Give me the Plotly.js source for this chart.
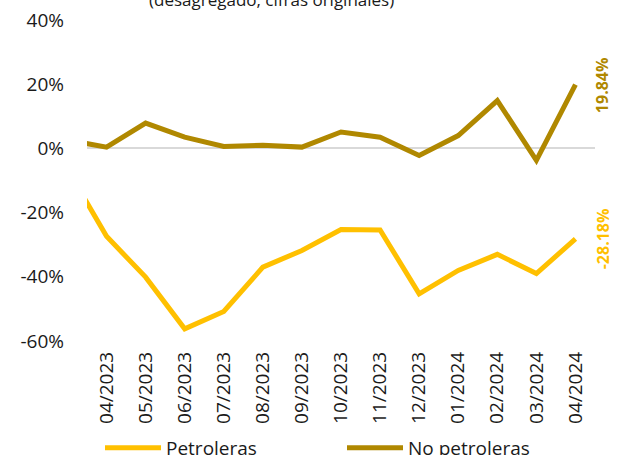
<!DOCTYPE html>
<html>
<head>
<meta charset="utf-8">
<script src="https://cdn.plot.ly/plotly-3.0.1.min.js"></script>
<style>html,body{margin:0;padding:0;background:#fff;}#chart{width:618px;height:455px;}</style>
</head>
<body>
<div id="chart"></div>
<script>
const months = ["03/2023","04/2023","05/2023","06/2023","07/2023","08/2023","09/2023","10/2023","11/2023","12/2023","01/2024","02/2024","03/2024","04/2024"];
const petroleras = [-6.4,-27.4,-40.1,-56.2,-50.8,-37.0,-31.8,-25.3,-25.4,-45.3,-38.0,-33.0,-39.0,-28.18];
const noPetroleras = [2.6,0.4,7.9,3.5,0.6,1.0,0.4,5.1,3.5,-2.2,4.0,14.9,-3.7,19.84];
const seriesNames = ["Petroleras","No petroleras"];
const colors = ["#FFC000","#B08800"];
const subtitle = "(desagregado, cifras originales)";
const yTicks = [-60,-40,-20,0,20,40];

const font = "Open Sans, Noto Sans, sans-serif";
const last = months.length - 1;

const traces = [
  {x: months, y: petroleras, name: seriesNames[0], type: "scatter", mode: "lines",
   line: {color: colors[0], width: 5}},
  {x: months, y: noPetroleras, name: seriesNames[1], type: "scatter", mode: "lines",
   line: {color: colors[1], width: 5}}
];

const fmt = v => v.toFixed(2) + "%";

const layout = {
  width: 618, height: 455,
  margin: {l: 87, r: 23, t: 20, b: 114},
  paper_bgcolor: "#fff", plot_bgcolor: "#fff",
  font: {family: font, size: 18, color: "#1a1a1a"},
  showlegend: true,
  legend: {orientation: "h", xref: "container", yref: "container", x: 100/618, xanchor: "left",
           y: 1 - 429/455, yanchor: "top",
           font: {family: font, size: 19, color: "#1a1a1a"}, itemwidth: 56,
           entrywidth: 171, entrywidthmode: "pixels", traceorder: "normal",
           tracegroupgap: 0, bgcolor: "rgba(0,0,0,0)"},
  xaxis: {type: "category", range: [0.5, 13.5], tickangle: -90, showgrid: false,
          zeroline: false, showline: false, ticks: "", tickfont: {family: font, size: 19, color: "#1a1a1a"},
          ticklabelstandoff: 6, fixedrange: true, automargin: false},
  yaxis: {range: [-60, 40], tickvals: yTicks, ticktext: yTicks.map(v => v + "%"),
          showgrid: false, zeroline: true, zerolinecolor: "#D9D9D9", zerolinewidth: 2,
          showline: false, ticks: "", ticklabelstandoff: 22, automargin: false,
          tickfont: {family: font, size: 19, color: "#1a1a1a"}, fixedrange: true},
  annotations: [
    {xref: "paper", yref: "paper", x: (271-87)/508, y: (455-114-13)/321, xanchor: "center", yanchor: "bottom",
     text: subtitle, showarrow: false, font: {family: font, size: 17, color: "#1a1a1a"}},
    {xref: "x", yref: "y", x: months[last], y: noPetroleras[last], xshift: 26, textangle: -90,
     text: "<b>" + fmt(noPetroleras[last]) + "</b>", showarrow: false,
     font: {family: font, size: 16, color: colors[1]}},
    {xref: "x", yref: "y", x: months[last], y: petroleras[last], xshift: 27, textangle: -90,
     text: "<b>" + fmt(petroleras[last]) + "</b>", showarrow: false,
     font: {family: font, size: 16, color: colors[0]}}
  ]
};

Plotly.newPlot("chart", traces, layout, {displayModeBar: false, staticPlot: true});
</script>
</body>
</html>
